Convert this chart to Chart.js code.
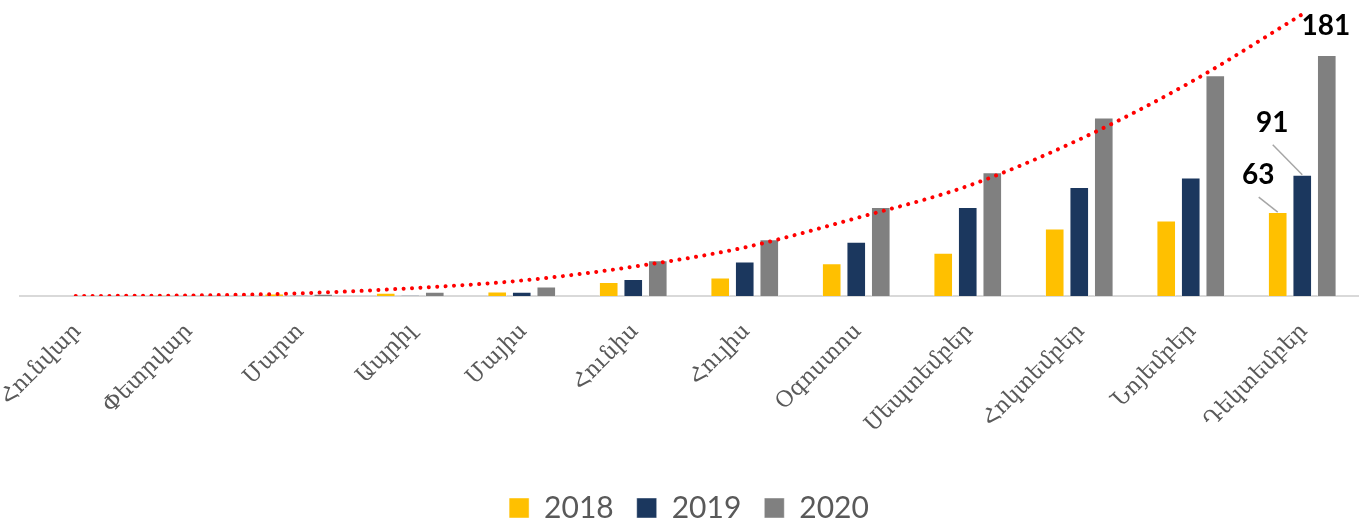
<!DOCTYPE html>
<html>
<head>
<meta charset="utf-8">
<script src="https://cdn.jsdelivr.net/npm/chart.js@4"></script>
<style>
	html, body { margin: 0; padding: 0; background: #fff; }
	#wrap { width: 1370px; height: 520px; }
</style>
</head>
<body>
<div id="wrap"><canvas id="months-chart"></canvas></div>
<script>
const months = ["Հունվար", "Փետրվար", "Մարտ", "Ապրիլ", "Մայիս", "Հունիս", "Հուլիս", "Օգոստոս", "Սեպտեմբեր", "Հոկտեմբեր", "Նոյեմբեր", "Դեկտեմբեր"];
const years = ["2018", "2019", "2020"];
const values2018 = [0, 0.4, 1.8, 2.5, 3.3, 10.6, 13.8, 24.6, 32.5, 50.7, 56.7, 63];
const values2019 = [0, 0, 0.3, 0.4, 3.2, 12.7, 25.9, 40.7, 66.8, 81.9, 89, 91];
const values2020 = [0, 0.5, 1.6, 3.2, 7.2, 26.9, 42.7, 66.9, 93, 134, 165.7, 181];
const trendValues = [0, 0.4, 2, 5.8, 11.6, 22, 36.5, 58.5, 82.6, 117.5, 160.6, 211.5];
const yearColors = ["#FFC000", "#1B375E", "#808080"];

// labels shown only on the last month, with leader lines for the two lower bars
// (dataset 0 is the trend line, so the years are 1..3)
const shownLabels = [
	{dataset: 1, dx: -19.5, dy: -37.5, line: [-19, -15]},
	{dataset: 2, dx: -30, dy: -51.5, line: [-29.5, -30]},
	{dataset: 3, dx: -1, dy: -29, line: null}
];

const lastMonthLabels = {
	id: "lastMonthLabels",
	afterDatasetsDraw(chart)
	{
		const ctx = chart.ctx;
		const last = months.length - 1;
		ctx.save();
		shownLabels.forEach(function (lab)
		{
			const bar = chart.getDatasetMeta(lab.dataset).data[last];
			const value = chart.data.datasets[lab.dataset].data[last];
			if (lab.line)
			{
				ctx.strokeStyle = "#A6A6A6";
				ctx.lineWidth = 1.5;
				ctx.beginPath();
				ctx.moveTo(bar.x + lab.line[0], bar.y + lab.line[1]);
				ctx.lineTo(bar.x, bar.y);
				ctx.stroke();
			}
			ctx.fillStyle = "#000";
			ctx.font = "bold 28px Lato";
			ctx.textAlign = "center";
			ctx.textBaseline = "middle";
			ctx.fillText(String(value), bar.x + lab.dx, bar.y + lab.dy);
		});
		ctx.restore();
	}
};

// month names at a fixed 45 degrees, ending at each category tick
const monthLabels = {
	id: "monthLabels",
	afterDraw(chart)
	{
		const ctx = chart.ctx;
		const xScale = chart.scales.x;
		ctx.save();
		ctx.fillStyle = "#595959";
		ctx.font = "22px 'DejaVu Serif', 'DejaVu Sans', serif";
		ctx.textAlign = "right";
		ctx.textBaseline = "middle";
		months.forEach(function (m, i)
		{
			ctx.save();
			ctx.translate(xScale.getPixelForTick(i) + 2, xScale.top + 32);
			ctx.rotate(-Math.PI / 4);
			ctx.fillText(m, 0, 0);
			ctx.restore();
		});
		ctx.restore();
	}
};

const yearSeries = [values2018, values2019, values2020];

const chart = new Chart(document.getElementById("months-chart"), {
	type: "bar",
	data: {
		labels: months,
		datasets: [{
			type: "line",
			label: "trend",
			data: trendValues,
			borderColor: "#FF0000",
			borderWidth: 4,
			borderDash: [0.01, 8.4],
			borderCapStyle: "round",
			pointRadius: 0,
			cubicInterpolationMode: "monotone",
			fill: false,
			order: 0
		}].concat(years.map(function (y, i)
		{
			return {
				label: y,
				data: yearSeries[i],
				backgroundColor: yearColors[i],
				borderColor: "rgba(255,255,255,0.45)",
				borderWidth: 1,
				categoryPercentage: 0.66,
				barPercentage: 0.8,
				order: 1
			};
		}))
	},
	options: {
		responsive: true,
		maintainAspectRatio: false,
		animation: false,
		layout: {padding: {left: 20, right: 12, top: 3, bottom: -13}},
		plugins: {
			tooltip: {enabled: false},
			legend: {
				position: "bottom",
				labels: {
					filter: function (item) { return item.text !== "trend"; },
					boxWidth: 20,
					boxHeight: 20,
					padding: 23,
					color: "#595959",
					font: {family: "Lato, sans-serif", size: 30}
				}
			}
		},
		scales: {
			x: {
				grid: {display: false},
				border: {display: true, color: "#D9D9D9", width: 2},
				ticks: {display: false},
				afterFit: function (scale) { scale.height = 174; }
			},
			y: {
				display: false,
				min: 0,
				max: 220
			}
		}
	},
	plugins: [lastMonthLabels, monthLabels]
});
</script>
</body>
</html>
